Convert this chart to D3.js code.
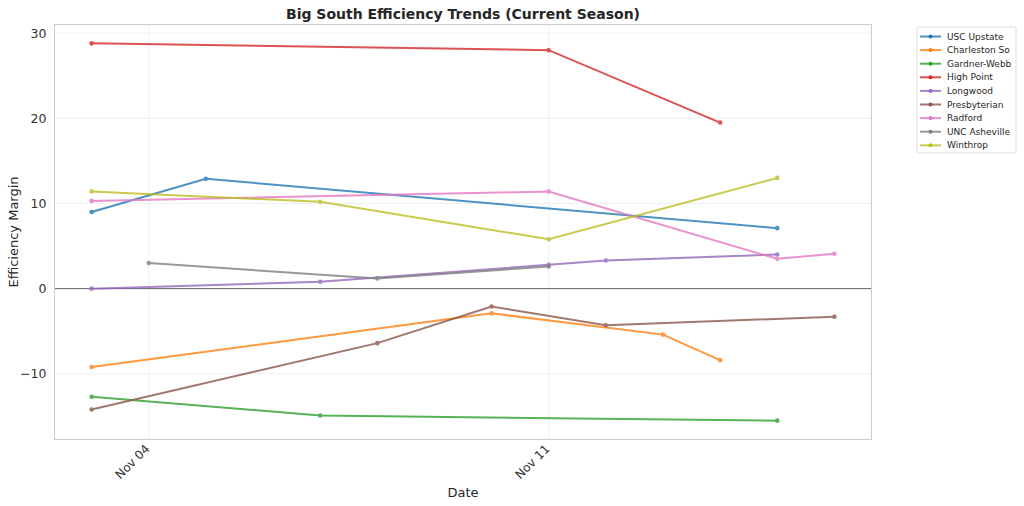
<!DOCTYPE html>
<html>
<head>
<meta charset="utf-8">
<script src="https://cdn.jsdelivr.net/npm/d3@7"></script>
<style>
  body { margin: 0; background: #fff; }
  text { font-family: "DejaVu Sans", sans-serif; fill: #262626; }
</style>
</head>
<body>
<div class="content"></div>
<script>
// team names and colours, same order as the legend
const teams = ['USC Upstate', 'Charleston So', 'Gardner-Webb', 'High Point', 'Longwood',
  'Presbyterian', 'Radford', 'UNC Asheville', 'Winthrop']
const colors = ['#1f77b4', '#ff7f0e', '#2ca02c', '#d62728', '#9467bd',
  '#8c564b', '#e377c2', '#7f7f7f', '#bcbd22']

// game dates (November) per team and efficiency margin on those dates
const days = [
  [3, 5, 15],
  [3, 10, 13, 14],
  [3, 7, 15],
  [3, 11, 14],
  [3, 7, 11, 12, 15],
  [3, 8, 10, 12, 16],
  [3, 11, 15, 16],
  [4, 8, 11],
  [3, 7, 11, 15]
]
const margins = [
  [9.0, 12.9, 7.1],
  [-9.2, -2.9, -5.4, -8.4],
  [-12.7, -14.9, -15.5],
  [28.8, 28.0, 19.5],
  [0.0, 0.8, 2.8, 3.3, 4.0],
  [-14.2, -6.4, -2.1, -4.3, -3.3],
  [10.3, 11.4, 3.5, 4.1],
  [3.0, 1.2, 2.6],
  [11.4, 10.2, 5.8, 13.0]
]
const xTicks = [4, 11]
const yTicks = [-10, 0, 10, 20, 30]

const width = 1024, height = 506
const mLeft = 54.5, mRight = 871.5, mTop = 24.5, mBottom = 439.5

const date = d => new Date(2024, 10, d)
const series = teams.map((t, i) => ({
  name: t, color: colors[i],
  pts: days[i].map((d, j) => ({ x: date(d), y: margins[i][j] }))
}))

const allX = series.flatMap(s => s.pts.map(p => +p.x))
const allY = series.flatMap(s => s.pts.map(p => p.y))
const [x0, x1] = d3.extent(allX), [y0, y1] = d3.extent(allY)
const padX = (x1 - x0) * 0.05, padY = (y1 - y0) * 0.05

const x = d3.scaleTime().domain([x0 - padX, x1 + padX]).range([mLeft, mRight])
const y = d3.scaleLinear().domain([y0 - padY, y1 + padY]).range([mBottom, mTop])

const svg = d3.select('div.content').append('svg')
  .attr('width', width).attr('height', height)

// grid
svg.append('g').selectAll('line').data(yTicks).join('line')
  .attr('x1', mLeft).attr('x2', mRight)
  .attr('y1', d => y(d)).attr('y2', d => y(d))
  .attr('stroke', '#ebebeb').attr('stroke-width', 0.8)
svg.append('g').selectAll('line').data(xTicks).join('line')
  .attr('x1', d => x(date(d))).attr('x2', d => x(date(d)))
  .attr('y1', mTop).attr('y2', mBottom)
  .attr('stroke', '#ebebeb').attr('stroke-width', 0.8)

// zero line
svg.append('line')
  .attr('x1', mLeft).attr('x2', mRight)
  .attr('y1', y(0)).attr('y2', y(0))
  .attr('stroke', '#555').attr('stroke-width', 0.9)

// frame
svg.append('rect')
  .attr('x', mLeft).attr('y', mTop)
  .attr('width', mRight - mLeft).attr('height', mBottom - mTop)
  .attr('fill', 'none').attr('stroke', '#cccccc').attr('stroke-width', 1)

// axes
const yAxis = svg.append('g')
  .attr('transform', `translate(${mLeft},0)`)
  .call(d3.axisLeft(y).tickValues(yTicks).tickSize(0).tickPadding(8)
    .tickFormat(d => d < 0 ? '\u2212' + Math.abs(d) : d))
yAxis.select('.domain').remove()
yAxis.selectAll('text').attr('font-size', 12.5).style('fill', '#333')

const xAxis = svg.append('g')
  .attr('transform', `translate(0,${mBottom})`)
  .call(d3.axisBottom(x).tickValues(xTicks.map(date)).tickSize(0)
    .tickFormat(d3.timeFormat('Nov %d')))
xAxis.select('.domain').remove()
xAxis.selectAll('text')
  .attr('font-size', 12).style('fill', '#333')
  .attr('text-anchor', 'end')
  .attr('dy', 0)
  .attr('transform', 'translate(-1,8) rotate(-45)')

// lines and points
const line = d3.line().x(p => x(p.x)).y(p => y(p.y))
const g = svg.append('g').selectAll('g').data(series).join('g')
  .attr('opacity', 0.8)
g.append('path')
  .attr('d', s => line(s.pts))
  .attr('fill', 'none').attr('stroke', s => s.color).attr('stroke-width', 2)
g.selectAll('circle').data(s => s.pts.map(p => ({ p, c: s.color }))).join('circle')
  .attr('cx', d => x(d.p.x)).attr('cy', d => y(d.p.y))
  .attr('r', 2.3).attr('fill', d => d.c)

// titles
svg.append('text')
  .attr('x', (mLeft + mRight) / 2).attr('y', 19)
  .attr('text-anchor', 'middle')
  .attr('font-size', 14).attr('font-weight', 'bold')
  .text('Big South Efficiency Trends (Current Season)')
svg.append('text')
  .attr('x', (mLeft + mRight) / 2).attr('y', 497)
  .attr('text-anchor', 'middle').attr('font-size', 13)
  .text('Date')
svg.append('text')
  .attr('transform', `translate(18,${(mTop + mBottom) / 2}) rotate(-90)`)
  .attr('text-anchor', 'middle').attr('font-size', 13)
  .text('Efficiency Margin')

// legend
const lg = svg.append('g').attr('transform', 'translate(917,27)')
lg.append('rect')
  .attr('width', 99).attr('height', 126).attr('rx', 2)
  .attr('fill', '#fff').attr('stroke', '#d6d6d6').attr('stroke-width', 0.8)
const item = lg.selectAll('g.item').data(series).join('g')
  .attr('class', 'item')
  .attr('transform', (s, i) => `translate(0,${9.5 + i * 13.6})`)
item.append('line')
  .attr('x1', 3).attr('x2', 24).attr('stroke', s => s.color)
  .attr('stroke-width', 2).attr('opacity', 0.8)
item.append('circle').attr('cx', 13.5).attr('r', 2).attr('fill', s => s.color)
item.append('text')
  .attr('x', 30).attr('dy', '0.35em').attr('font-size', 9)
  .text(s => s.name)
</script>
</body>
</html>
